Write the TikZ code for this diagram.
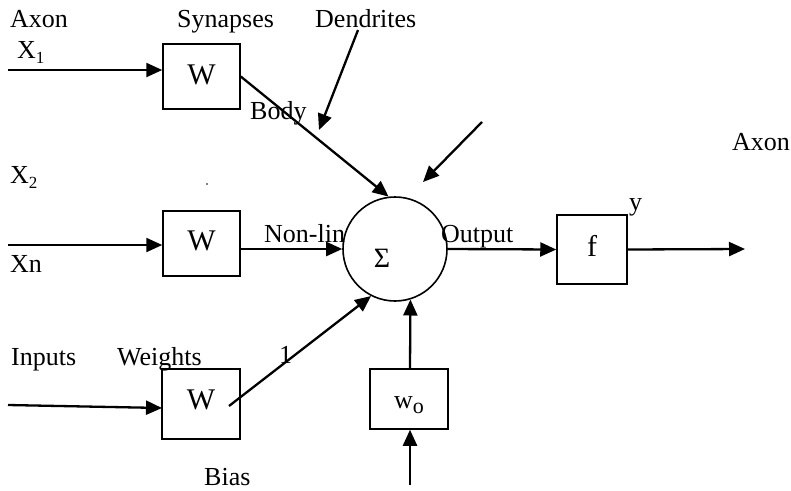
\documentclass[tikz,border=0pt]{standalone}
\usepackage{fontspec}
\setmainfont{Liberation Serif}
\usetikzlibrary{arrows.meta}
\newcommand\lowsub[1]{\raisebox{-0.22em}{\fontsize{17}{20}\selectfont #1}}
\begin{document}
\begin{tikzpicture}[x=1pt,y=-1pt,
  every node/.style={font=\fontsize{26}{30}\selectfont},
  big/.style={font=\fontsize{30}{34}\selectfont},
  lab/.style={anchor=base west, inner sep=0pt},
  wbox/.style={draw, line width=1.5pt, inner sep=0pt, minimum width=77pt, minimum height=65pt},
  conn/.style={line width=2.3pt, -{Triangle[length=16pt,width=14pt]}}]
\useasboundingbox (0,0) rectangle (791,490);
% boxes
\node[wbox, big, text height=20pt, text depth=5pt] (W1) at (201.5,76.5) {W};
\node[wbox, big, text height=20pt, text depth=6pt] (W2) at (201.5,243.5) {W};
\node[wbox, big, minimum width=78pt, minimum height=70pt, text height=20pt, text depth=10pt] (W3) at (201,404) {W};
\node[wbox, minimum width=78pt, minimum height=60pt, text height=18pt, text depth=0pt] (wo) at (409,399) {w\raisebox{-5pt}{\fontsize{22}{24}\selectfont o}};
\node[wbox, big, minimum width=70pt, minimum height=69pt, text height=21pt, text depth=8pt] (f) at (592,249.5) {f};
\node[draw, circle, line width=1.6pt, minimum size=104pt, inner sep=0pt, font=\fontsize{28}{30}\selectfont, text height=36pt, text depth=0pt] (S) at (395,249) {Σ\hspace*{26pt}};
% free ends
\coordinate (x1s) at (8,70);
\coordinate (xns) at (8,245);
\coordinate (x3s) at (8,405);
\coordinate (x3e) at (162,408);
\coordinate (d1s) at (358,30);
\coordinate (d1e) at (319,130);
\coordinate (d2s) at (482,122);
\coordinate (d2e) at (423,182);
\coordinate (w3s) at (229,406);
\coordinate (outE) at (745,249);
\coordinate (bias) at (410,485);
% connectors
\draw[conn] (x1s) -- (x1s -| W1.west);
\draw[conn] (W1.east) -- (S.97);
\draw[conn] (d1s) -- (d1e);
\draw[conn] (d2s) -- (d2e);
\draw[conn] (xns) -- (xns -| W2.west);
\draw[conn] (S.west -| W2.east) -- (S.west);
\draw[conn] (S.east) -- (f.west);
\draw[conn] (f.east) -- (outE);
\draw[conn] (x3s) -- (x3e);
\draw[conn] (w3s) -- (S.243);
\draw[conn] (wo.north -| bias) -- (S.-73);
\draw[conn] (bias) -- (bias |- wo.south);
% labels
\node[lab] (tAxon) at (10,27) {Axon};
\node[lab] (tX1) at (17,58) {X\lowsub{1}};
\node[lab] (tSyn) at (177,27) {Synapses};
\node[lab] (tDen) at (315,27) {Dendrites};
\node[lab] (tBody) at (250,119) {Body};
\node[lab] (tX2) at (10,183) {X\lowsub{2}};
\node[lab] (tXn) at (10,272) {Xn};
\node[lab] (tNon) at (264,242) {Non-lin};
\node[lab] (tOut) at (441,242) {Output};
\node[lab] (ty) at (629,210) {y};
\node[lab] (tAxon2) at (732,150) {Axon};
\node[lab] (tIn) at (11,365) {Inputs};
\node[lab] (tWei) at (117,365) {Weights};
\node[lab] (tOne) at (279,363) {1};
\node[lab] (tBias) at (204,485) {Bias};
\fill (207,184) circle (0.9pt);
\end{tikzpicture}
\end{document}
